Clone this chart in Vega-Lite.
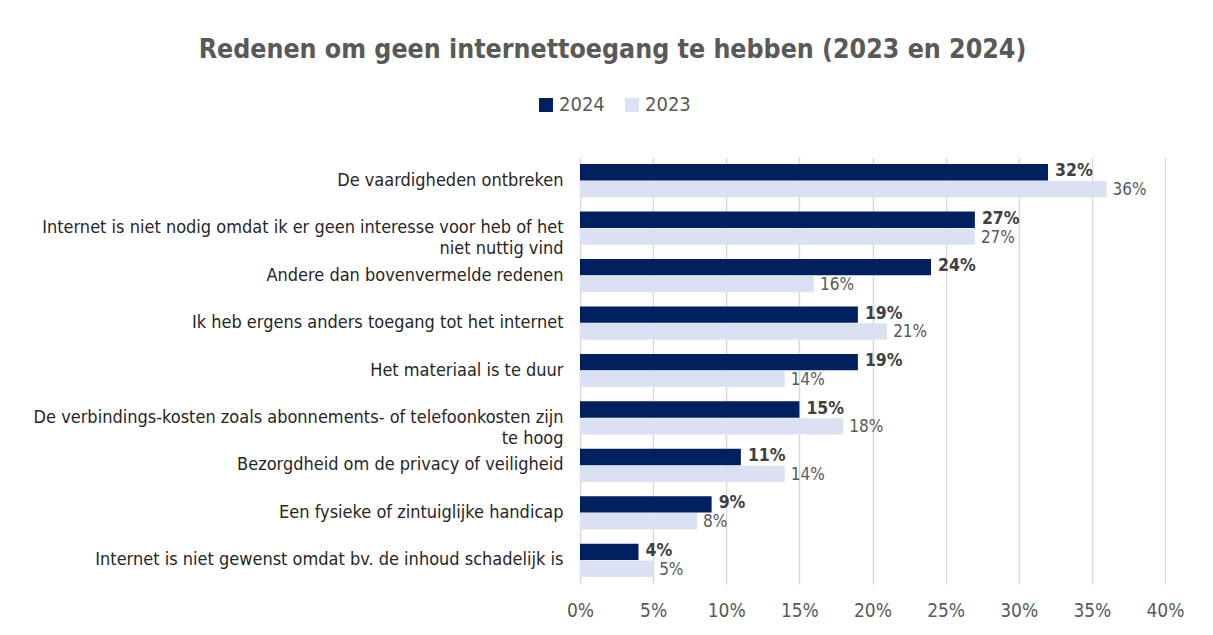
{
  "$schema": "https://vega.github.io/schema/vega-lite/v6.json",
  "autosize": {"type": "none"},
  "width": 585,
  "height": 427,
  "padding": {"left": 580, "top": 157, "right": 48, "bottom": 51},
  "background": "white",
  "config": {
    "font": "DejaVu Sans Condensed",
    "view": {"stroke": null}
  },
  "title": {
    "text": "Redenen om geen internettoegang te hebben (2023 en 2024)",
    "anchor": "middle",
    "frame": "group",
    "dx": -260,
    "offset": 32,
    "fontSize": 26.5,
    "fontWeight": "bold",
    "color": "#595959",
    "font": "DejaVu Sans Condensed"
  },
  "data": {
    "values": [
      {"reden": "De vaardigheden ontbreken", "jaar": "2024", "waarde": 0.32},
      {"reden": "De vaardigheden ontbreken", "jaar": "2023", "waarde": 0.36},
      {"reden": "Internet is niet nodig omdat ik er geen interesse voor heb of het|niet nuttig vind", "jaar": "2024", "waarde": 0.27},
      {"reden": "Internet is niet nodig omdat ik er geen interesse voor heb of het|niet nuttig vind", "jaar": "2023", "waarde": 0.27},
      {"reden": "Andere dan bovenvermelde redenen", "jaar": "2024", "waarde": 0.24},
      {"reden": "Andere dan bovenvermelde redenen", "jaar": "2023", "waarde": 0.16},
      {"reden": "Ik heb ergens anders toegang tot het internet", "jaar": "2024", "waarde": 0.19},
      {"reden": "Ik heb ergens anders toegang tot het internet", "jaar": "2023", "waarde": 0.21},
      {"reden": "Het materiaal is te duur", "jaar": "2024", "waarde": 0.19},
      {"reden": "Het materiaal is te duur", "jaar": "2023", "waarde": 0.14},
      {"reden": "De verbindings-kosten zoals abonnements- of telefoonkosten zijn|te hoog", "jaar": "2024", "waarde": 0.15},
      {"reden": "De verbindings-kosten zoals abonnements- of telefoonkosten zijn|te hoog", "jaar": "2023", "waarde": 0.18},
      {"reden": "Bezorgdheid om de privacy of veiligheid", "jaar": "2024", "waarde": 0.11},
      {"reden": "Bezorgdheid om de privacy of veiligheid", "jaar": "2023", "waarde": 0.14},
      {"reden": "Een fysieke of zintuiglijke handicap", "jaar": "2024", "waarde": 0.09},
      {"reden": "Een fysieke of zintuiglijke handicap", "jaar": "2023", "waarde": 0.08},
      {"reden": "Internet is niet gewenst omdat bv. de inhoud schadelijk is", "jaar": "2024", "waarde": 0.04},
      {"reden": "Internet is niet gewenst omdat bv. de inhoud schadelijk is", "jaar": "2023", "waarde": 0.05}
    ]
  },
  "encoding": {
    "y": {
      "field": "reden",
      "type": "nominal",
      "sort": null,
      "scale": {"paddingInner": 0.3, "paddingOuter": 0.15},
      "axis": {
        "title": null,
        "ticks": false,
        "domain": false,
        "labelPadding": 17,
        "labelFontSize": 18,
        "labelColor": "#262626",
        "labelLimit": 600,
        "labelLineHeight": 21,
        "labelExpr": "split(datum.label, '|')"
      }
    },
    "yOffset": {
      "field": "jaar",
      "type": "nominal",
      "sort": ["2024", "2023"],
      "scale": {"paddingInner": 0.03}
    },
    "x": {
      "field": "waarde",
      "type": "quantitative",
      "scale": {"domain": [0, 0.4]},
      "axis": {
        "title": null,
        "format": ".0%",
        "values": [0, 0.05, 0.1, 0.15, 0.2, 0.25, 0.3, 0.35, 0.4],
        "ticks": false,
        "domain": false,
        "grid": true,
        "gridColor": "#D9D9D9",
        "gridWidth": 1.5,
        "labelFlush": false,
        "labelPadding": 17,
        "labelFontSize": 19,
        "labelColor": "#595959"
      }
    }
  },
  "layer": [
    {
      "mark": {"type": "bar"},
      "encoding": {
        "color": {
          "field": "jaar",
          "type": "nominal",
          "sort": ["2024", "2023"],
          "scale": {"domain": ["2024", "2023"], "range": ["#002060", "#D9E1F2"]},
          "legend": {
            "orient": "none",
            "legendX": -44,
            "legendY": -62,
            "direction": "horizontal",
            "title": null,
            "symbolType": "square",
            "symbolSize": 196,
            "symbolStrokeWidth": 0,
            "labelFontSize": 20,
            "labelColor": "#595959",
            "columnPadding": 17,
            "labelOffset": 3
          }
        }
      }
    },
    {
      "transform": [{"filter": "datum.jaar == '2024'"}],
      "mark": {"type": "text", "align": "left", "dx": 7, "dy": -1, "fontSize": 17.5, "fontWeight": "bold", "color": "#404040"},
      "encoding": {"text": {"field": "waarde", "type": "quantitative", "format": ".0%"}}
    },
    {
      "transform": [{"filter": "datum.jaar == '2023'"}],
      "mark": {"type": "text", "align": "left", "dx": 6, "dy": 1, "fontSize": 17, "color": "#595959"},
      "encoding": {"text": {"field": "waarde", "type": "quantitative", "format": ".0%"}}
    }
  ]
}
